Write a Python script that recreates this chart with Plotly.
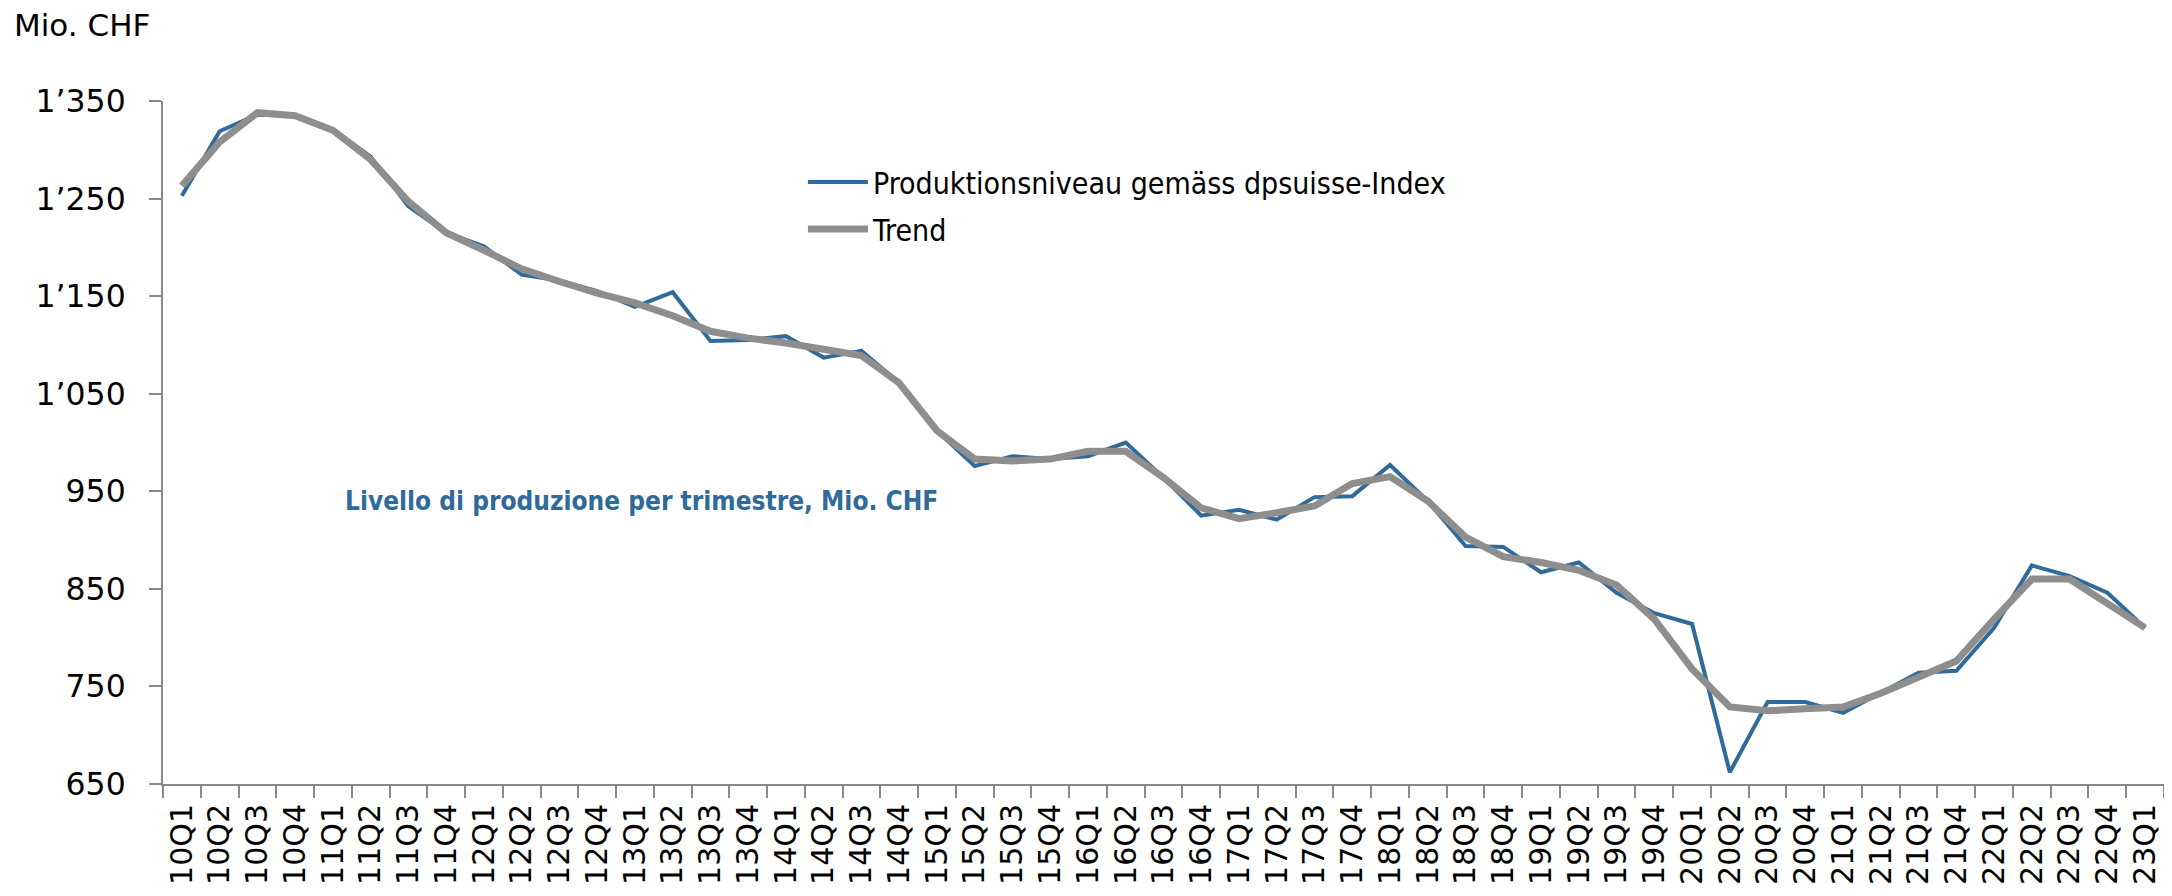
import plotly.graph_objects as go

quarters = [f"{y:02d}Q{q}" for y in range(10, 23) for q in range(1, 5)] + ["23Q1"]

produktion = [1253, 1319, 1336, 1335, 1321, 1293, 1242, 1215, 1201, 1172,
              1166, 1155, 1139, 1154, 1104, 1105, 1109, 1087, 1094, 1061,
              1012, 976, 986, 983, 986, 1000, 964, 925, 931, 921,
              944, 945, 977, 940, 894, 893, 867, 877, 846, 825,
              814, 662, 734, 734, 723, 744, 764, 766, 810, 874,
              863, 846, 810]

trend = [1263, 1308, 1338, 1335, 1320, 1290, 1247, 1215, 1197, 1178,
         1165, 1153, 1143, 1130, 1114, 1107, 1102, 1096, 1089, 1061,
         1012, 983, 981, 983, 991, 991, 964, 933, 922, 928,
         935, 958, 965, 940, 903, 883, 877, 869, 854, 819,
         768, 729, 725, 727, 729, 743, 759, 776, 819, 860,
         860, 835, 810]

y_tick_vals = [650, 750, 850, 950, 1050, 1150, 1250, 1350]
y_tick_text = ["650", "750", "850", "950", "1\u2019050", "1\u2019150", "1\u2019250", "1\u2019350"]

series_names = ["Produktionsniveau gemäss dpsuisse-Index", "Trend"]
y_unit = "Mio. CHF"
note_text = "Livello di produzione per trimestre, Mio. CHF"

BLUE = "#2F6A9B"
GREY = "#8E8E8E"
AXIS = "#898989"
NARROW = "Liberation Sans Narrow, DejaVu Sans Condensed, Arial Narrow, sans-serif"
XFONT = dict(family="DejaVu Sans, Verdana, sans-serif", size=30, color="#000000")
YFONT = dict(family="DejaVu Sans, Verdana, sans-serif", size=31.5, color="#000000")

fig = go.Figure()
fig.add_trace(go.Scatter(x=quarters, y=produktion, mode="lines", name=series_names[0],
                         legendgroup="a", line=dict(color=BLUE, width=4)))
fig.add_trace(go.Scatter(x=quarters, y=trend, mode="lines", name=series_names[1],
                         legendgroup="b", line=dict(color=GREY, width=7)))

fig.update_layout(
    width=2156, height=880,
    margin=dict(l=155, r=0, t=93, b=104, pad=0),
    paper_bgcolor="white", plot_bgcolor="white",
    showlegend=True,
    legend=dict(x=0.3198, y=0.9195, xanchor="left", yanchor="top",
                font=dict(family=NARROW, size=30, color="#000000"),
                bgcolor="rgba(0,0,0,0)", tracegroupgap=5, itemwidth=60),
    xaxis=dict(type="category", tickson="boundaries", ticks="outside", ticklen=12,
               tickwidth=2, tickcolor=AXIS, showline=True, linecolor=AXIS, linewidth=2,
               showgrid=False, tickangle=-90, tickfont=XFONT, ticklabelstandoff=6,
               range=[-0.5, len(quarters) - 0.5], zeroline=False),
    yaxis=dict(range=[650, 1350], tickvals=y_tick_vals, ticktext=y_tick_text,
               ticks="outside", ticklen=12, tickwidth=2, tickcolor=AXIS,
               showline=True, linecolor=AXIS, linewidth=2, showgrid=False,
               zeroline=False, tickfont=YFONT, ticklabelstandoff=17),
    annotations=[
        dict(text=y_unit, xref="paper", yref="paper", x=-0.0755, y=1.111,
             xanchor="left", yanchor="middle", showarrow=False,
             font=dict(family="DejaVu Sans, sans-serif", size=31, color="#000000")),
        dict(text=f"<b>{note_text}</b>", xref="paper", yref="paper", x=0.09, y=0.414,
             xanchor="left", yanchor="middle", showarrow=False,
             font=dict(family=NARROW, size=26, color=BLUE)),
    ],
)

fig.write_html("out.html")
